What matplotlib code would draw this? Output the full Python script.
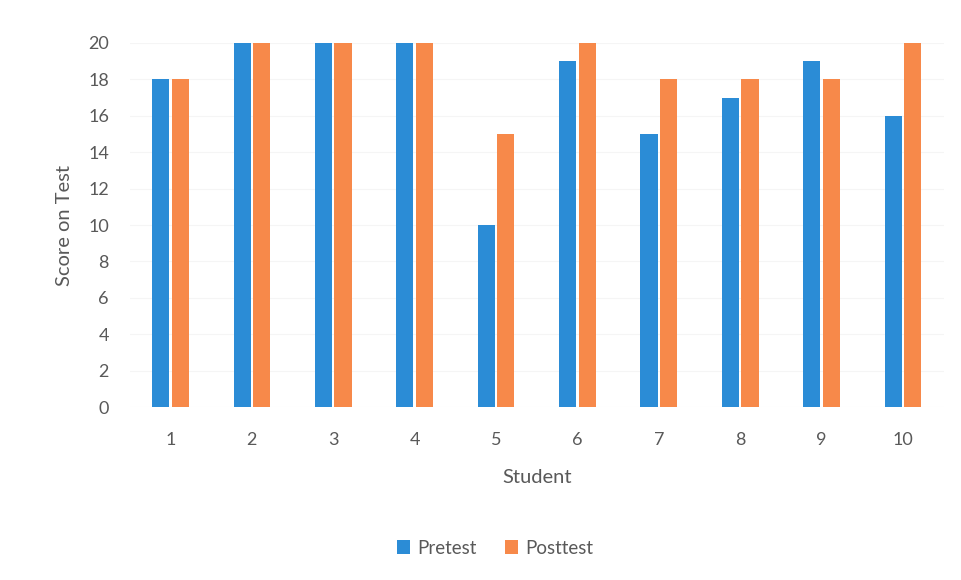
import numpy as np
import matplotlib.pyplot as plt

plt.rcParams['font.family'] = ['Lato', 'DejaVu Sans']

students = ['1', '2', '3', '4', '5', '6', '7', '8', '9', '10']
pretest = [18, 20, 20, 20, 10, 19, 15, 17, 19, 16]
posttest = [18, 20, 20, 20, 15, 20, 18, 18, 18, 20]

blue = '#2B8CD6'
orange = '#F7894A'
txt = '#595959'

fig = plt.figure(figsize=(9.61, 5.80), dpi=100)
ax = fig.add_axes([0.135, 0.298, 0.847, 0.628])

x = np.arange(len(students))
w = 0.21
ax.bar(x - 0.12, pretest, w, color=blue, label='Pretest', zorder=3)
ax.bar(x + 0.12, posttest, w, color=orange, label='Posttest', zorder=3)

ax.set_xlim(-0.5, len(students) - 0.5)
ax.set_ylim(0, 20)
ax.set_yticks(range(0, 21, 2))
ax.set_xticks(x)
ax.set_xticklabels(students)
ax.grid(axis='y', color='#f5f5f5', linewidth=0.8, zorder=0)
for s in ax.spines.values():
    s.set_visible(False)
ax.tick_params(length=0, labelsize=13, colors=txt)
ax.tick_params(axis='y', pad=15)
ax.tick_params(axis='x', pad=18)

ax.set_xlabel('Student', fontsize=14.5, color=txt, labelpad=15)
ax.set_ylabel('Score on Test', fontsize=14.5, color=txt, labelpad=11)

fig.legend(loc='center', bbox_to_anchor=(0.515, 0.055), ncol=2, frameon=False,
           fontsize=13.5, labelcolor=txt, handlelength=0.7, handleheight=0.7,
           handletextpad=0.4, columnspacing=1.5)

fig.savefig('out.png', dpi=100)
